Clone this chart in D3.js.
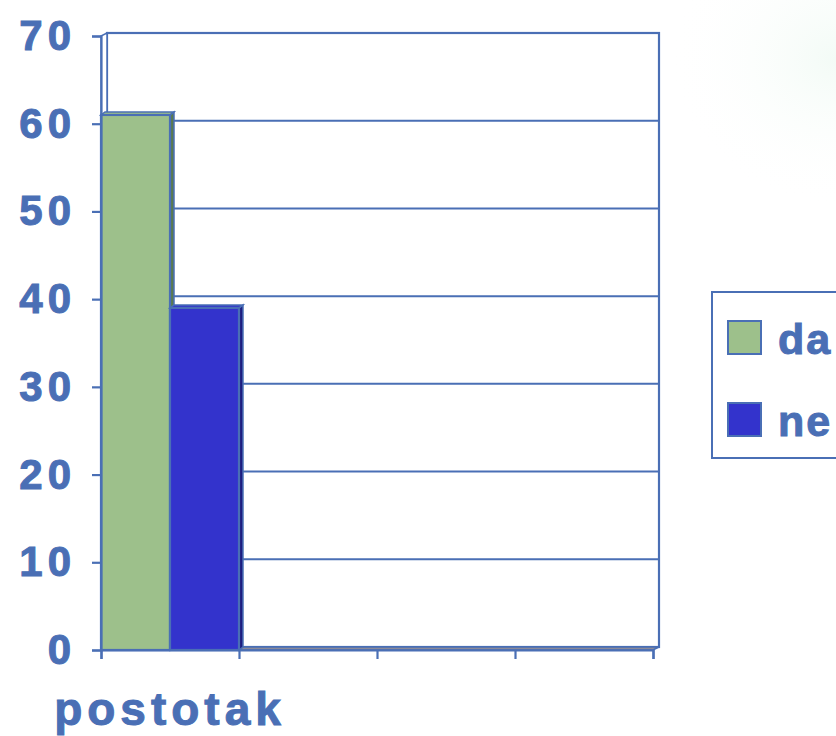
<!DOCTYPE html>
<html>
<head>
<meta charset="utf-8">
<script src="https://cdn.jsdelivr.net/npm/d3@7"></script>
<style>
  body { margin: 0; background: #fff; }
  svg { display: block; font-family: "Liberation Sans", Arial, sans-serif; }
</style>
</head>
<body>
<div id="chart"></div>
<script>
// data
var categories = ["postotak", "k2", "k3", "k4"];
var categoryLabels = ["postotak", "", "", ""];
var seriesNames = ["da", "ne"];
var daValues = [61, null, null, null];
var neValues = [39, null, null, null];
var yTicks = [0, 10, 20, 30, 40, 50, 60, 70];

var textColor = "#4a6fb5";
var lineColor = "#4a6fb5";
var colors = {da: "#9dc08b", ne: "#3333cc"};
var sideColors = {da: "#5a7a50", ne: "#1d1d80"};

var svg = d3.select("#chart").append("svg")
    .attr("width", 836)
    .attr("height", 736);

// very faint background tint on the right edge
var defs = svg.append("defs");
var grad = defs.append("radialGradient").attr("id", "bgtint")
    .attr("cx", "1").attr("cy", "0.08").attr("r", "0.2");
grad.append("stop").attr("offset", "0").attr("stop-color", "#f3fbf6");
grad.append("stop").attr("offset", "1").attr("stop-color", "#ffffff").attr("stop-opacity", 0);
svg.append("rect").attr("width", 836).attr("height", 736).attr("fill", "url(#bgtint)");

var plotL = 101, plotR = 653, plotT = 36, plotB = 650;
var depth = {dx: 6, dy: -3};      // back wall offset
var barDepth = {dx: 4, dy: -3};   // bar depth

var y = d3.scaleLinear().domain([0, 70]).range([plotB, plotT]);
var x = d3.scaleBand().domain(categories).range([plotL, plotR]).padding(0);
var xs = d3.scaleBand().domain(seriesNames).range([0, x.bandwidth()]).padding(0);

var g = svg.append("g");

// back wall + gridlines
g.append("rect")
    .attr("x", plotL + depth.dx).attr("y", plotT + depth.dy)
    .attr("width", plotR - plotL).attr("height", plotB - plotT)
    .attr("fill", "none").attr("stroke", lineColor).attr("stroke-width", 2.2);

yTicks.forEach(function(t) {
  if (t === 0 || t === 70) return;
  g.append("line")
      .attr("x1", plotL + depth.dx).attr("x2", plotR + depth.dx)
      .attr("y1", y(t) + depth.dy).attr("y2", y(t) + depth.dy)
      .attr("stroke", lineColor).attr("stroke-width", 2);
});

// side wall (left)
g.append("path")
    .attr("d", "M" + plotL + "," + plotB + "L" + plotL + "," + plotT +
               "L" + (plotL + depth.dx) + "," + (plotT + depth.dy) +
               "L" + (plotL + depth.dx) + "," + (plotB + depth.dy) + "Z")
    .attr("fill", "#fff").attr("stroke", lineColor).attr("stroke-width", 1.5);

// floor
g.append("path")
    .attr("d", "M" + plotL + "," + plotB + "L" + plotR + "," + plotB +
               "L" + (plotR + depth.dx) + "," + (plotB + depth.dy) +
               "L" + (plotL + depth.dx) + "," + (plotB + depth.dy) + "Z")
    .attr("fill", "#8a8a9a").attr("stroke", lineColor).attr("stroke-width", 1.5);

// bars
var barData = [];
categories.forEach(function(c, i) {
  if (daValues[i] != null) barData.push({cat: c, s: "da", v: daValues[i]});
  if (neValues[i] != null) barData.push({cat: c, s: "ne", v: neValues[i]});
});

var bars = g.selectAll(".bar").data(barData).enter().append("g").attr("class", "bar");

bars.append("path") // right side
    .attr("d", function(d) {
      var x1 = x(d.cat) + xs(d.s) + xs.bandwidth();
      return "M" + x1 + "," + plotB + "L" + x1 + "," + y(d.v) +
             "L" + (x1 + barDepth.dx) + "," + (y(d.v) + barDepth.dy) +
             "L" + (x1 + barDepth.dx) + "," + (plotB + barDepth.dy) + "Z";
    })
    .attr("fill", function(d) { return sideColors[d.s]; })
    .attr("stroke", lineColor).attr("stroke-width", 1.5);

bars.append("path") // top
    .attr("d", function(d) {
      var x0 = x(d.cat) + xs(d.s), x1 = x0 + xs.bandwidth();
      return "M" + x0 + "," + y(d.v) + "L" + x1 + "," + y(d.v) +
             "L" + (x1 + barDepth.dx) + "," + (y(d.v) + barDepth.dy) +
             "L" + (x0 + barDepth.dx) + "," + (y(d.v) + barDepth.dy) + "Z";
    })
    .attr("fill", function(d) { return colors[d.s]; })
    .attr("stroke", lineColor).attr("stroke-width", 1.5);

bars.append("rect") // front
    .attr("x", function(d) { return x(d.cat) + xs(d.s); })
    .attr("y", function(d) { return y(d.v); })
    .attr("width", xs.bandwidth())
    .attr("height", function(d) { return plotB - y(d.v); })
    .attr("fill", function(d) { return colors[d.s]; })
    .attr("stroke", lineColor).attr("stroke-width", 2.2);

// y axis
var yAxis = g.append("g")
    .attr("transform", "translate(" + plotL + ",0)")
    .call(d3.axisLeft(y).tickValues(yTicks).tickSize(9).tickPadding(16));
yAxis.select(".domain").attr("stroke", lineColor).attr("stroke-width", 2.2);
yAxis.selectAll(".tick line").attr("stroke", lineColor).attr("stroke-width", 2.2);
yAxis.selectAll(".tick text")
    .attr("fill", textColor)
    .attr("stroke", textColor).attr("stroke-width", 1)
    .attr("font-size", 42).attr("font-weight", "bold")
    .attr("letter-spacing", 5)
    .attr("font-family", "'Liberation Sans', Arial, sans-serif");

// x axis
var xLin = d3.scaleLinear().domain([0, categories.length]).range([plotL, plotR]);
var xAxis = g.append("g")
    .attr("transform", "translate(0," + plotB + ")")
    .call(d3.axisBottom(xLin).ticks(categories.length).tickSize(9).tickFormat(""));
xAxis.select(".domain").attr("stroke", lineColor).attr("stroke-width", 2.2);
xAxis.selectAll(".tick line").attr("stroke", lineColor).attr("stroke-width", 2.2);

g.selectAll(".catlabel").data(categories).enter().append("text")
    .attr("class", "catlabel")
    .attr("x", function(d) { return x(d) + x.bandwidth() / 2; })
    .attr("y", 725)
    .attr("text-anchor", "middle")
    .attr("fill", textColor)
    .attr("stroke", textColor).attr("stroke-width", 1)
    .attr("font-size", 46).attr("font-weight", "bold")
    .attr("letter-spacing", 5)
    .text(function(d, i) { return categoryLabels[i]; });

// legend
var legend = svg.append("g").attr("transform", "translate(712,292)");
legend.append("rect")
    .attr("width", 160).attr("height", 166)
    .attr("fill", "#fff").attr("stroke", lineColor).attr("stroke-width", 2);
seriesNames.forEach(function(s, i) {
  var row = legend.append("g").attr("transform", "translate(16," + (29 + i * 82) + ")");
  row.append("rect").attr("width", 33).attr("height", 33)
      .attr("fill", colors[s]).attr("stroke", lineColor).attr("stroke-width", 2);
  row.append("text").attr("x", 50).attr("y", 33)
      .attr("fill", textColor)
      .attr("stroke", textColor).attr("stroke-width", 1)
      .attr("font-size", 43).attr("font-weight", "bold")
      .attr("letter-spacing", 2)
      .text(s);
});
</script>
</body>
</html>
